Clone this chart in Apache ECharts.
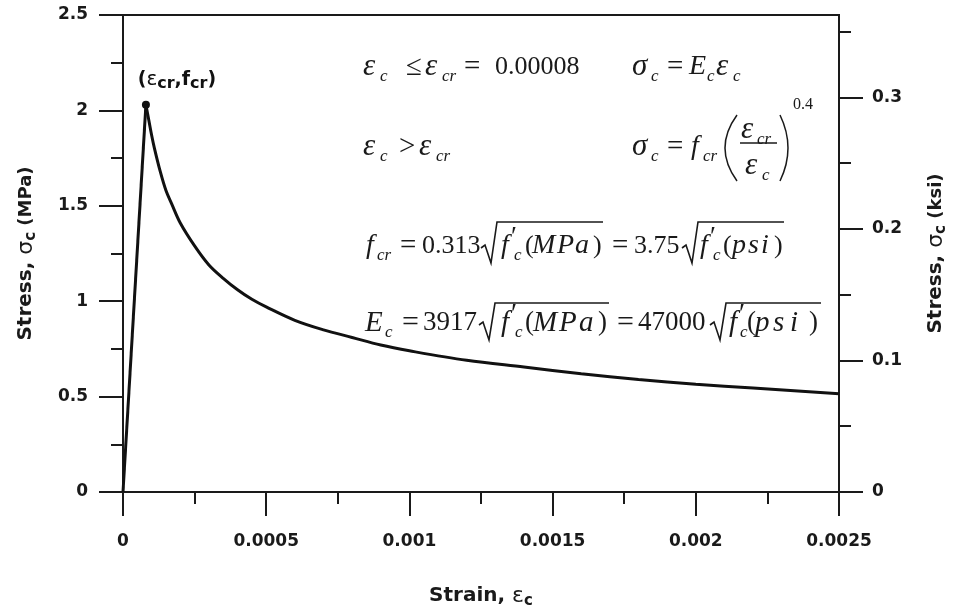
<!DOCTYPE html>
<html>
<head>
<meta charset="utf-8">
<script src="https://cdn.jsdelivr.net/npm/echarts@6/dist/echarts.min.js"></script>
<style>
  html, body { margin: 0; padding: 0; background: #fff; }
  #main { width: 957px; height: 615px; }
</style>
</head>
<body>
<div id="main"></div>
<script>
// values (strain, stress in MPa)
const strain = [0, 0.00008, 0.00009, 0.0001, 0.00011, 0.00013, 0.00015, 0.00017, 0.0002, 0.00025,
  0.0003, 0.00035, 0.0004, 0.00045, 0.0005, 0.0006, 0.0007, 0.0008, 0.0009, 0.001,
  0.0012, 0.0014, 0.0016, 0.0018, 0.002, 0.0022, 0.0025]
const stress = [0, 2.03, 1.95, 1.87, 1.8, 1.68, 1.58, 1.51, 1.41, 1.29,
  1.19, 1.12, 1.06, 1.01, 0.97, 0.9, 0.85, 0.81, 0.77, 0.74,
  0.69, 0.655, 0.62, 0.59, 0.565, 0.545, 0.515]
const peak = [0.00008, 2.03]
const ksiTicks = [0, 0.1, 0.2, 0.3]
const ksiMinor = [0.05, 0.15, 0.25, 0.35]
const MPA_PER_KSI = 6.894757

const rise = [[strain[0], stress[0]], [strain[1], stress[1]]]
const decay = strain.slice(1).map((s, i) => [s, stress[i + 1]])

const INK = '#1a1a1a'
const SANS = '"DejaVu Sans"'
const SERIF = '"Liberation Serif"'

// ---- equations: glyph groups placed where they sit in the figure ----
const eqEls = []
function txt(x, y, t, k, size) {
  let font = size + 'px ' + SERIF
  let dy = 0
  if (k === 'i') font = 'italic ' + (size + 2) + 'px ' + SERIF
  if (k === 'g') font = 'italic ' + (size + 5) + 'px ' + SERIF
  if (k === 'o') font = (size + 3) + 'px ' + SERIF
  if (k === 's') { font = 'italic ' + Math.round(size * 0.64) + 'px ' + SERIF; dy = size * 0.37 }
  if (k === 'P') { font = (size + 1) + 'px ' + SERIF; dy = -size * 0.3 }
  eqEls.push({
    type: 'text', x: x, y: y + dy, silent: true,
    style: { text: t, font: font, fill: INK, verticalAlign: 'middle', textVerticalAlign: 'middle' }
  })
}
function row(y, size, pieces) {
  for (const p of pieces) txt(p[2], y, p[0], p[1], size)
}
function radical(x0, y, top, end) {
  eqEls.push({
    type: 'polyline', silent: true,
    shape: { points: [[x0, y + 2], [x0 + 4, y - 1], [x0 + 10, y + 17], [x0 + 16, top], [end, top]] },
    style: { stroke: INK, lineWidth: 1.6, fill: null }
  })
}
function paren(xEnd, xMid) {
  eqEls.push({
    type: 'bezierCurve', silent: true,
    shape: { x1: xEnd, y1: 115, x2: xEnd, y2: 181, cpx1: 2 * xMid - xEnd, cpy1: 148 },
    style: { stroke: INK, lineWidth: 1.5, fill: null }
  })
}

row(67, 26, [
  ['ε', 'g', 363], ['c', 's', 380], ['≤', 'o', 406], ['ε', 'g', 425], ['cr', 's', 442],
  ['=', 'o', 464], ['0.00008', 'r', 495],
  ['σ', 'g', 632], ['c', 's', 651], ['=', 'o', 667], ['E', 'i', 689], ['c', 's', 707],
  ['ε', 'g', 716], ['c', 's', 733]
])
row(147, 26, [
  ['ε', 'g', 363], ['c', 's', 380], ['>', 'o', 399], ['ε', 'g', 419], ['cr', 's', 436],
  ['σ', 'g', 632], ['c', 's', 651], ['=', 'o', 667], ['f', 'i', 691], ['cr', 's', 703]
])
paren(737, 725)
row(130, 26, [['ε', 'g', 741], ['cr', 's', 757]])
eqEls.push({ type: 'line', silent: true, shape: { x1: 740, y1: 143, x2: 777, y2: 143 }, style: { stroke: INK, lineWidth: 1.6 } })
row(166, 26, [['ε', 'g', 745], ['c', 's', 762]])
paren(780, 788)
row(105, 16, [['0.4', 'r', 793]])

row(246, 26, [
  ['f', 'i', 366], ['cr', 's', 377], ['=', 'o', 400], ['0.313', 'r', 422],
  ['f', 'i', 501], ['′', 'P', 511], ['c', 's', 514], ['(', 'r', 525], ['M', 'i', 532], ['P', 'i', 557],
  ['a', 'i', 575], [')', 'r', 593],
  ['=', 'o', 612], ['3.75', 'r', 634],
  ['f', 'i', 700], ['′', 'P', 710], ['c', 's', 713], ['(', 'r', 723], ['p', 'i', 732], ['s', 'i', 748],
  ['i', 'i', 761], [')', 'r', 774]
])
radical(481, 246, 222, 603)
radical(682, 246, 222, 784)

row(323, 27, [
  ['E', 'i', 365], ['c', 's', 385], ['=', 'o', 402], ['3917', 'r', 423],
  ['f', 'i', 501], ['′', 'P', 511], ['c', 's', 515], ['(', 'r', 525], ['M', 'i', 533], ['P', 'i', 559],
  ['a', 'i', 579], [')', 'r', 598],
  ['=', 'o', 617], ['47000', 'r', 638],
  ['f', 'i', 729], ['′', 'P', 739], ['c', 's', 740], ['(', 'r', 747], ['p', 'i', 755], ['s', 'i', 773],
  ['i', 'i', 790], [')', 'r', 809]
])
radical(479, 323, 303, 609)
radical(710, 323, 303, 821)

// ---- chart ----
const tickLine = { color: INK, width: 2 }
const nameRich = {
  b: { fontFamily: SANS, fontWeight: 'bold', fontSize: 20, color: INK, lineHeight: 26, verticalAlign: 'middle' },
  g: { fontFamily: SANS, fontWeight: 'normal', fontSize: 22, color: INK, lineHeight: 26, verticalAlign: 'middle' },
  s: { fontFamily: SANS, fontWeight: 'bold', fontSize: 15, color: INK, lineHeight: 14, verticalAlign: 'bottom' },
  u: { fontFamily: SANS, fontWeight: 'bold', fontSize: 18, color: INK, lineHeight: 26, verticalAlign: 'middle' }
}
const labelStyle = { fontFamily: SANS, fontWeight: 'bold', fontSize: 17, color: INK }

var myChart = echarts.init(document.getElementById('main'))
myChart.setOption({
  animation: false,
  grid: { left: 123, right: 115, top: 15, bottom: 123, show: true, borderColor: INK, borderWidth: 2, backgroundColor: '#fff' },
  xAxis: {
    type: 'value', min: 0, max: 0.0025, interval: 0.0005,
    name: '{b|Strain, }{g|ε}{s|c}', nameLocation: 'middle', nameGap: 91,
    nameTextStyle: { rich: nameRich },
    axisLine: { lineStyle: tickLine },
    axisTick: { length: 24, lineStyle: tickLine },
    minorTick: { show: true, splitNumber: 2, length: 12, lineStyle: tickLine },
    splitLine: { show: false },
    axisLabel: Object.assign({ margin: 41, formatter: v => String(parseFloat(v.toFixed(4))) }, labelStyle)
  },
  yAxis: [
    {
      type: 'value', min: 0, max: 2.5, interval: 0.5,
      name: '{b|Stress, }{g|σ}{s|c}{u| (MPa)}', nameLocation: 'middle', nameGap: 84, nameRotate: 90,
      nameTextStyle: { rich: nameRich },
      axisLine: { lineStyle: tickLine },
      axisTick: { length: 24, lineStyle: tickLine },
      minorTick: { show: true, splitNumber: 2, length: 12, lineStyle: tickLine },
      splitLine: { show: false },
      axisLabel: Object.assign({ margin: 35 }, labelStyle)
    },
    {
      type: 'value', position: 'right', min: 0, max: 2.5 / MPA_PER_KSI,
      name: '{b|Stress, }{g|σ}{s|c}{u| (ksi)}', nameLocation: 'middle', nameGap: 84, nameRotate: 90,
      nameTextStyle: { rich: nameRich },
      axisLine: { show: true, lineStyle: tickLine },
      axisTick: { length: 24, lineStyle: tickLine, customValues: ksiTicks },
      splitLine: { show: false },
      axisLabel: Object.assign({ margin: 33, customValues: ksiTicks, formatter: v => String(parseFloat(v.toFixed(2))) }, labelStyle)
    },
    {
      type: 'value', position: 'right', min: 0, max: 2.5 / MPA_PER_KSI,
      axisLine: { show: false },
      axisTick: { show: true, length: 12, lineStyle: tickLine, customValues: ksiMinor },
      splitLine: { show: false },
      axisLabel: { show: false }
    }
  ],
  series: [
    {
      type: 'line', data: rise, symbol: 'none', silent: true,
      lineStyle: { color: '#111', width: 3 }
    },
    {
      type: 'line', data: decay, symbol: 'none', smooth: 0.35, silent: true,
      lineStyle: { color: '#111', width: 3 }
    },
    {
      type: 'scatter', data: [peak], symbol: 'circle', symbolSize: 8, silent: true,
      itemStyle: { color: '#111', opacity: 1 },
      label: {
        show: true, position: 'top', distance: 9, offset: [31, 0],
        formatter: '{a|(}{g|ε}{s|cr}{a|,f}{s|cr}{a|)}',
        rich: {
          a: { fontFamily: SANS, fontWeight: 'bold', fontSize: 19, color: '#111', lineHeight: 24, verticalAlign: 'middle' },
          g: { fontFamily: SANS, fontSize: 20, color: '#111', lineHeight: 24, verticalAlign: 'middle' },
          s: { fontFamily: SANS, fontWeight: 'bold', fontSize: 16, color: '#111', lineHeight: 14, verticalAlign: 'bottom' }
        }
      }
    }
  ],
  graphic: eqEls
})
</script>
</body>
</html>
